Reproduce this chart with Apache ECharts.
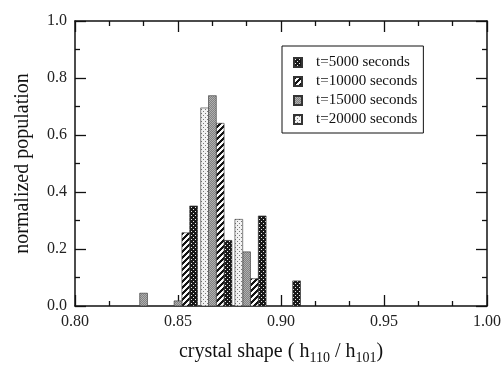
<!DOCTYPE html>
<html>
<head>
<meta charset="utf-8">
<script src="https://cdn.jsdelivr.net/npm/echarts@6/dist/echarts.min.js"></script>
<style>
  html, body { margin: 0; padding: 0; background: #fff; }
  #chart { width: 501px; height: 365px; }
</style>
</head>
<body>
<div id="chart"></div>
<script>
// Histogram bin centres (crystal shape h110/h101) and the population of each bin
const binCenters = [0.8333, 0.8500, 0.8667, 0.8833, 0.9000];
const seriesNames = ['t=5000 seconds', 't=10000 seconds', 't=15000 seconds', 't=20000 seconds'];
const pop5000  = [0.000, 0.351, 0.230, 0.316, 0.088];
const pop10000 = [0.000, 0.257, 0.641, 0.096, 0.000];
const pop15000 = [0.045, 0.018, 0.738, 0.190, 0.000];
const pop20000 = [0.000, 0.000, 0.695, 0.304, 0.000];
const xTicks = [0.80, 0.85, 0.90, 0.95, 1.00];
const yTicks = [0.0, 0.2, 0.4, 0.6, 0.8, 1.0];

// Fill patterns built pixel by pixel on small canvases
function makePattern(size, pixelFn) {
  const c = document.createElement('canvas');
  c.width = size; c.height = size;
  const ctx = c.getContext('2d');
  const img = ctx.createImageData(size, size);
  for (let y = 0; y < size; y++) {
    for (let x = 0; x < size; x++) {
      const v = pixelFn(x, y);
      const i = (y * size + x) * 4;
      img.data[i] = v; img.data[i + 1] = v; img.data[i + 2] = v; img.data[i + 3] = 255;
    }
  }
  ctx.putImageData(img, 0, 0);
  return { image: c, repeat: 'repeat' };
}
const patDark = makePattern(4, (x, y) => ((x === 1 && y === 1) || (x === 3 && y === 3)) ? 235 : 25);
const patStripe = makePattern(6, (x, y) => ((x + y) % 6) < 3 ? 20 : 250);
const patGray = makePattern(2, (x, y) => ((x + y) % 2) ? 130 : 175);
const patLight = makePattern(4, (x, y) => ((x === 1 && y === 1) || (x === 3 && y === 3)) ? 120 : 242);

const fills = [patDark, patStripe, patGray, patLight];
const values = [pop5000, pop10000, pop15000, pop20000];
// bar position inside each bin, in bar widths relative to the bin centre
const slot = [2, 1, 0, -1];
const binWidth = 1 / 60;
const barW = binWidth / 4.4;

const serif = '"Liberation Serif", "DejaVu Serif", serif';

function makeSeries(idx) {
  return {
    name: seriesNames[idx],
    type: 'custom',
    xAxisIndex: 0,
    yAxisIndex: 0,
    itemStyle: { color: fills[idx], borderColor: '#333', borderWidth: 0.6 },
    data: binCenters.map((x, i) => [x, values[idx][i]]),
    renderItem: function (params, api) {
      const x = api.value(0), y = api.value(1);
      if (y <= 0) return null;
      const cx = x + slot[idx] * barW;
      const p0 = api.coord([cx - barW / 2, y]);
      const p1 = api.coord([cx + barW / 2, 0]);
      return {
        type: 'rect',
        shape: { x: p0[0], y: p0[1], width: p1[0] - p0[0], height: p1[1] - p0[1] },
        style: { fill: fills[idx], stroke: '#333', lineWidth: 0.6 }
      };
    }
  };
}

// Ticks point into the plot area (negative length flips them inward)
const axisLine = () => ({ show: true, onZero: false, lineStyle: { color: '#111', width: 1.5 } });
const tickStyle = () => ({ show: true, inside: false, length: -11, lineStyle: { color: '#111', width: 1.3 } });
const minor = (n) => ({ show: true, splitNumber: n, length: -5, lineStyle: { color: '#111', width: 1.3 } });
const labelFont = { color: '#222', fontFamily: serif, fontSize: 16 };

const chart = echarts.init(document.getElementById('chart'), null, { renderer: 'canvas' });
chart.setOption({
  animation: false,
  backgroundColor: '#fff',
  grid: { left: 75, right: 14, top: 21, bottom: 59, containLabel: false, outerBoundsMode: 'none' },
  legend: {
    orient: 'vertical',
    left: 282, top: 46,
    padding: [9, 6, 6, 11],
    borderColor: '#111', borderWidth: 1,
    itemWidth: 8, itemHeight: 9, itemGap: 4,
    icon: 'rect',
    textStyle: { fontFamily: serif, fontSize: 15, color: '#111', lineHeight: 14, padding: [0, 0, 0, 9] },
    data: seriesNames
  },
  xAxis: [{
    type: 'value', min: xTicks[0], max: xTicks[xTicks.length - 1], interval: 0.05,
    position: 'bottom',
    name: '{a|crystal shape ( h}{s|110}{a| / h}{s|101}{a|)}',
    nameLocation: 'middle', nameGap: 33,
    nameTextStyle: {
      rich: {
        a: { fontFamily: serif, fontSize: 20, color: '#111' },
        s: { fontFamily: serif, fontSize: 14, color: '#111', padding: [12, 0, 0, 0] }
      }
    },
    axisLine: axisLine(), axisTick: tickStyle(), minorTick: minor(3),
    axisLabel: Object.assign({ inside: false, margin: 8, formatter: v => v.toFixed(2) }, labelFont),
    splitLine: { show: false }
  }, {
    type: 'value', min: xTicks[0], max: xTicks[xTicks.length - 1], interval: 0.05,
    position: 'top',
    axisLine: axisLine(), axisTick: tickStyle(), minorTick: minor(3),
    axisLabel: { show: false }, splitLine: { show: false }
  }],
  yAxis: [{
    type: 'value', min: yTicks[0], max: yTicks[yTicks.length - 1], interval: 0.2,
    position: 'left',
    name: 'normalized population',
    nameLocation: 'middle', nameGap: 42,
    nameTextStyle: { fontFamily: serif, fontSize: 20, color: '#111' },
    axisLine: axisLine(), axisTick: tickStyle(), minorTick: minor(2),
    axisLabel: Object.assign({ inside: false, margin: 8, formatter: v => v.toFixed(1) }, labelFont),
    splitLine: { show: false }
  }, {
    type: 'value', min: yTicks[0], max: yTicks[yTicks.length - 1], interval: 0.2,
    position: 'right',
    axisLine: axisLine(), axisTick: tickStyle(), minorTick: minor(2),
    axisLabel: { show: false }, splitLine: { show: false }
  }],
  series: [0, 1, 2, 3].map(makeSeries)
});
</script>
</body>
</html>
